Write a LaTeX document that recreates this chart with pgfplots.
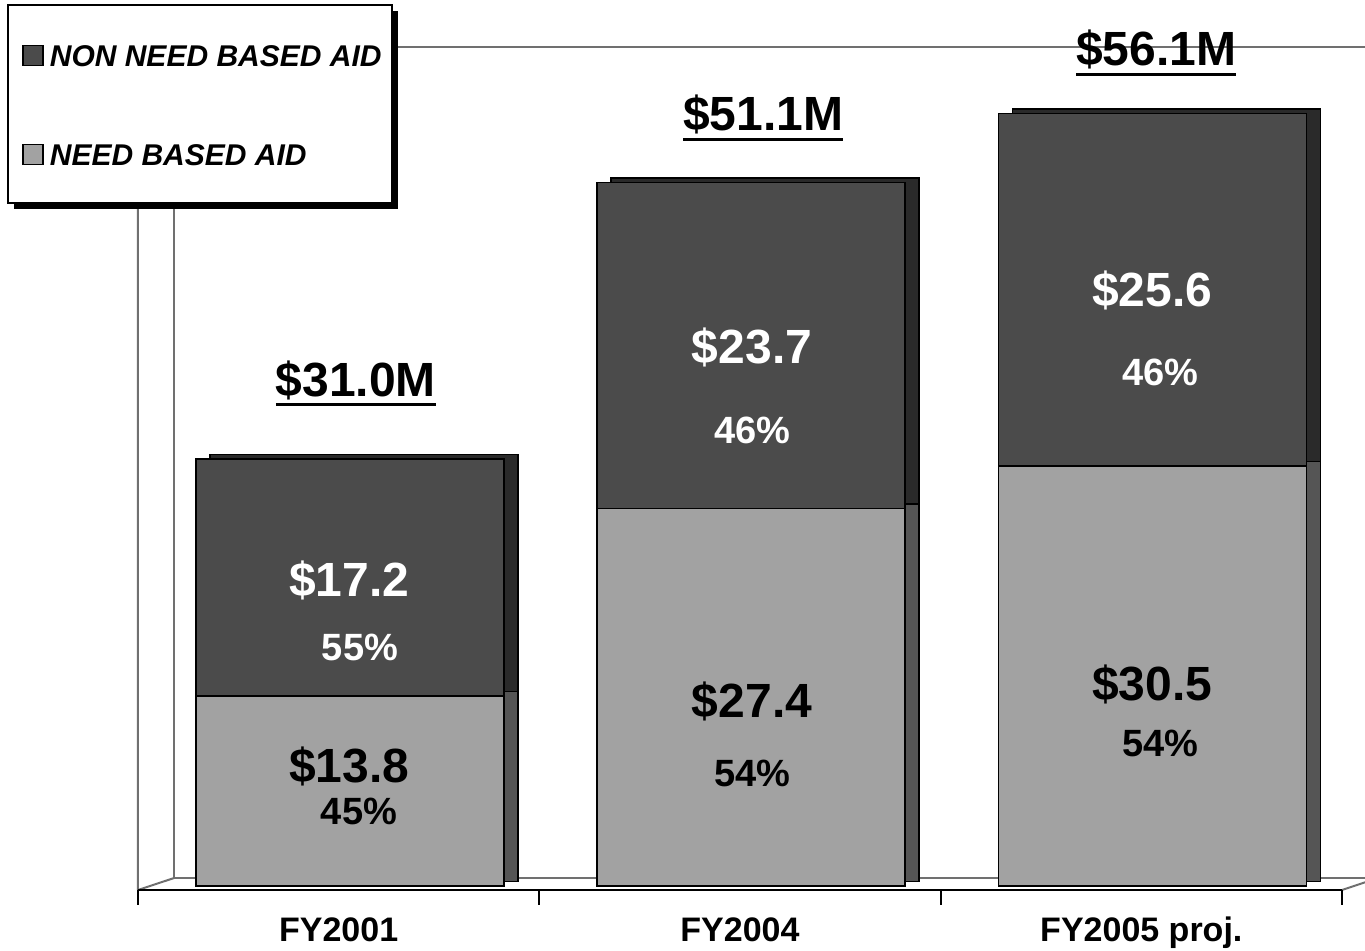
\documentclass[border=0pt]{standalone}
\usepackage{pgfplots}
\pgfplotsset{compat=1.18}
\usepackage{fontspec}
\setmainfont{Liberation Sans}
\definecolor{needF}{HTML}{A2A2A2}
\definecolor{nonF}{HTML}{4B4B4B}
\definecolor{needS}{HTML}{555555}
\definecolor{nonS}{HTML}{2A2A2A}
\definecolor{wall}{HTML}{707070}
\newcommand\ulbox[1]{\leavevmode\setbox0=\hbox{#1}\rlap{\rule[-5pt]{\wd0}{1.6pt}}\box0}
\newcommand\totfnt{\fontsize{24}{28}\selectfont\bfseries}
\newcommand\bigfnt{\fontsize{24}{28}\selectfont\bfseries}
\newcommand\pctfnt{\fontsize{19}{22}\selectfont\bfseries}
\pgfplotsset{
  geom/.style={
    at={(69pt,32.5pt)}, anchor=south west, scale only axis,
    width=602pt, height=413.1pt,
    xmin=-0.5, xmax=2.5, ymin=0, ymax=60,
    axis line style={draw=none}, ytick=\empty, xtick=\empty,
    major tick length=0pt, clip=false,
  },
  bars/.style={ybar stacked, bar width=154pt, bar shift=5.6pt},
}
\begin{document}
\begin{tikzpicture}
% walls and legend box
\begin{axis}[geom]
\draw[wall, line width=1pt] (axis cs:-0.41,60.93) -- (axis cs:-0.41,0.58) -- (axis cs:2.62,0.58);
\draw[wall, line width=1pt] (axis cs:-0.41,60.93) -- (axis cs:2.62,60.93);
\draw[wall, line width=1pt] (axis cs:-0.5,-0.29) -- (axis cs:-0.41,0.58);
\draw[wall, line width=1pt] (axis cs:-0.5,-0.29) -- (axis cs:-0.5,60.0) -- (axis cs:-0.41,60.93);
\draw[wall, line width=1pt] (axis cs:2.5,-0.29) -- (axis cs:2.59,0.58);
\draw[black, line width=1.1pt] (axis cs:-0.5,-0.29) -- (axis cs:2.5,-0.29);
\draw[black, line width=1.1pt] (axis cs:-0.5,-0.29) -- (axis cs:-0.5,-1.38);
\draw[black, line width=1.1pt] (axis cs:0.5,-0.29) -- (axis cs:0.5,-1.38);
\draw[black, line width=1.1pt] (axis cs:1.5,-0.29) -- (axis cs:1.5,-1.38);
\draw[black, line width=1.1pt] (axis cs:2.5,-0.29) -- (axis cs:2.5,-1.38);
\fill[black] (rel axis cs:-0.10299,1.05907) rectangle (rel axis cs:0.21595,0.81942);
\draw[black, fill=white, line width=1pt] (rel axis cs:-0.10797,1.06633) rectangle (rel axis cs:0.21096,0.82668);
\end{axis}
% side faces (shifted copy)
\begin{axis}[geom, at={(76pt,34.75pt)}, bars]
\addplot[fill=needS, draw=black, line width=0.75pt] coordinates {(0,13.8) (1,27.4) (2,30.5)};
\addplot[fill=nonS, draw=black, line width=0.75pt] coordinates {(0,17.2) (1,23.7) (2,25.6)};
\end{axis}
% front faces
\begin{axis}[geom, bars,
  xtick={0,1,2}, xticklabels={FY2001,FY2004,FY2005 proj.},
  xticklabel style={anchor=base, yshift=-28pt, font=\fontsize{17}{20}\selectfont\bfseries},
  reverse legend,
  legend image code/.code={\draw[#1,draw=black,line width=0.75pt] (0pt,-5pt) rectangle (10pt,5pt);},
  legend cell align=left,
  legend style={at={(-0.108,1.0663)}, anchor=north west, draw=none, fill=none,
    inner xsep=7pt, inner ysep=19.5pt, row sep=38.5pt, column sep=3pt,
    nodes={inner sep=0pt, text height=11pt, text depth=0pt,
      font=\fontsize{15}{18}\selectfont\bfseries\itshape}},
]
\addplot[fill=needF, draw=black, line width=0.75pt] coordinates {(0,13.8) (1,27.4) (2,30.5)};
\addlegendentry{NEED BASED AID}
\addplot[fill=nonF, draw=black, line width=0.75pt] coordinates {(0,17.2) (1,23.7) (2,25.6)};
\addlegendentry{NON NEED BASED AID}
\end{axis}
% labels
\begin{axis}[geom]
\node[anchor=base, inner sep=0pt, font=\totfnt] at (axis cs:0.043,35.58) {\ulbox{\$31.0M}};
\node[anchor=base, inner sep=0pt, font=\totfnt] at (axis cs:1.0575,54.83) {\ulbox{\$51.1M}};
\node[anchor=base, inner sep=0pt, font=\totfnt] at (axis cs:2.0367,59.55) {\ulbox{\$56.1M}};
\node[anchor=base, inner sep=0pt, font=\bigfnt, white] at (axis cs:0.026,20.99) {\$17.2};
\node[anchor=base, inner sep=0pt, font=\pctfnt, white] at (axis cs:0.053,16.41) {55\%};
\node[anchor=base, inner sep=0pt, font=\bigfnt] at (axis cs:0.026,7.55) {\$13.8};
\node[anchor=base, inner sep=0pt, font=\pctfnt] at (axis cs:0.0507,4.43) {45\%};
\node[anchor=base, inner sep=0pt, font=\bigfnt, white] at (axis cs:1.030,37.98) {\$23.7};
\node[anchor=base, inner sep=0pt, font=\pctfnt, white] at (axis cs:1.030,32.10) {46\%};
\node[anchor=base, inner sep=0pt, font=\bigfnt] at (axis cs:1.030,12.27) {\$27.4};
\node[anchor=base, inner sep=0pt, font=\pctfnt] at (axis cs:1.030,7.26) {54\%};
\node[anchor=base, inner sep=0pt, font=\bigfnt, white] at (axis cs:2.027,42.05) {\$25.6};
\node[anchor=base, inner sep=0pt, font=\pctfnt, white] at (axis cs:2.047,36.38) {46\%};
\node[anchor=base, inner sep=0pt, font=\bigfnt] at (axis cs:2.027,13.5) {\$30.5};
\node[anchor=base, inner sep=0pt, font=\pctfnt] at (axis cs:2.047,9.37) {54\%};
\end{axis}
\pgfresetboundingbox
\useasboundingbox (0,0) rectangle (682.5pt,475.5pt);
\end{tikzpicture}
\end{document}
